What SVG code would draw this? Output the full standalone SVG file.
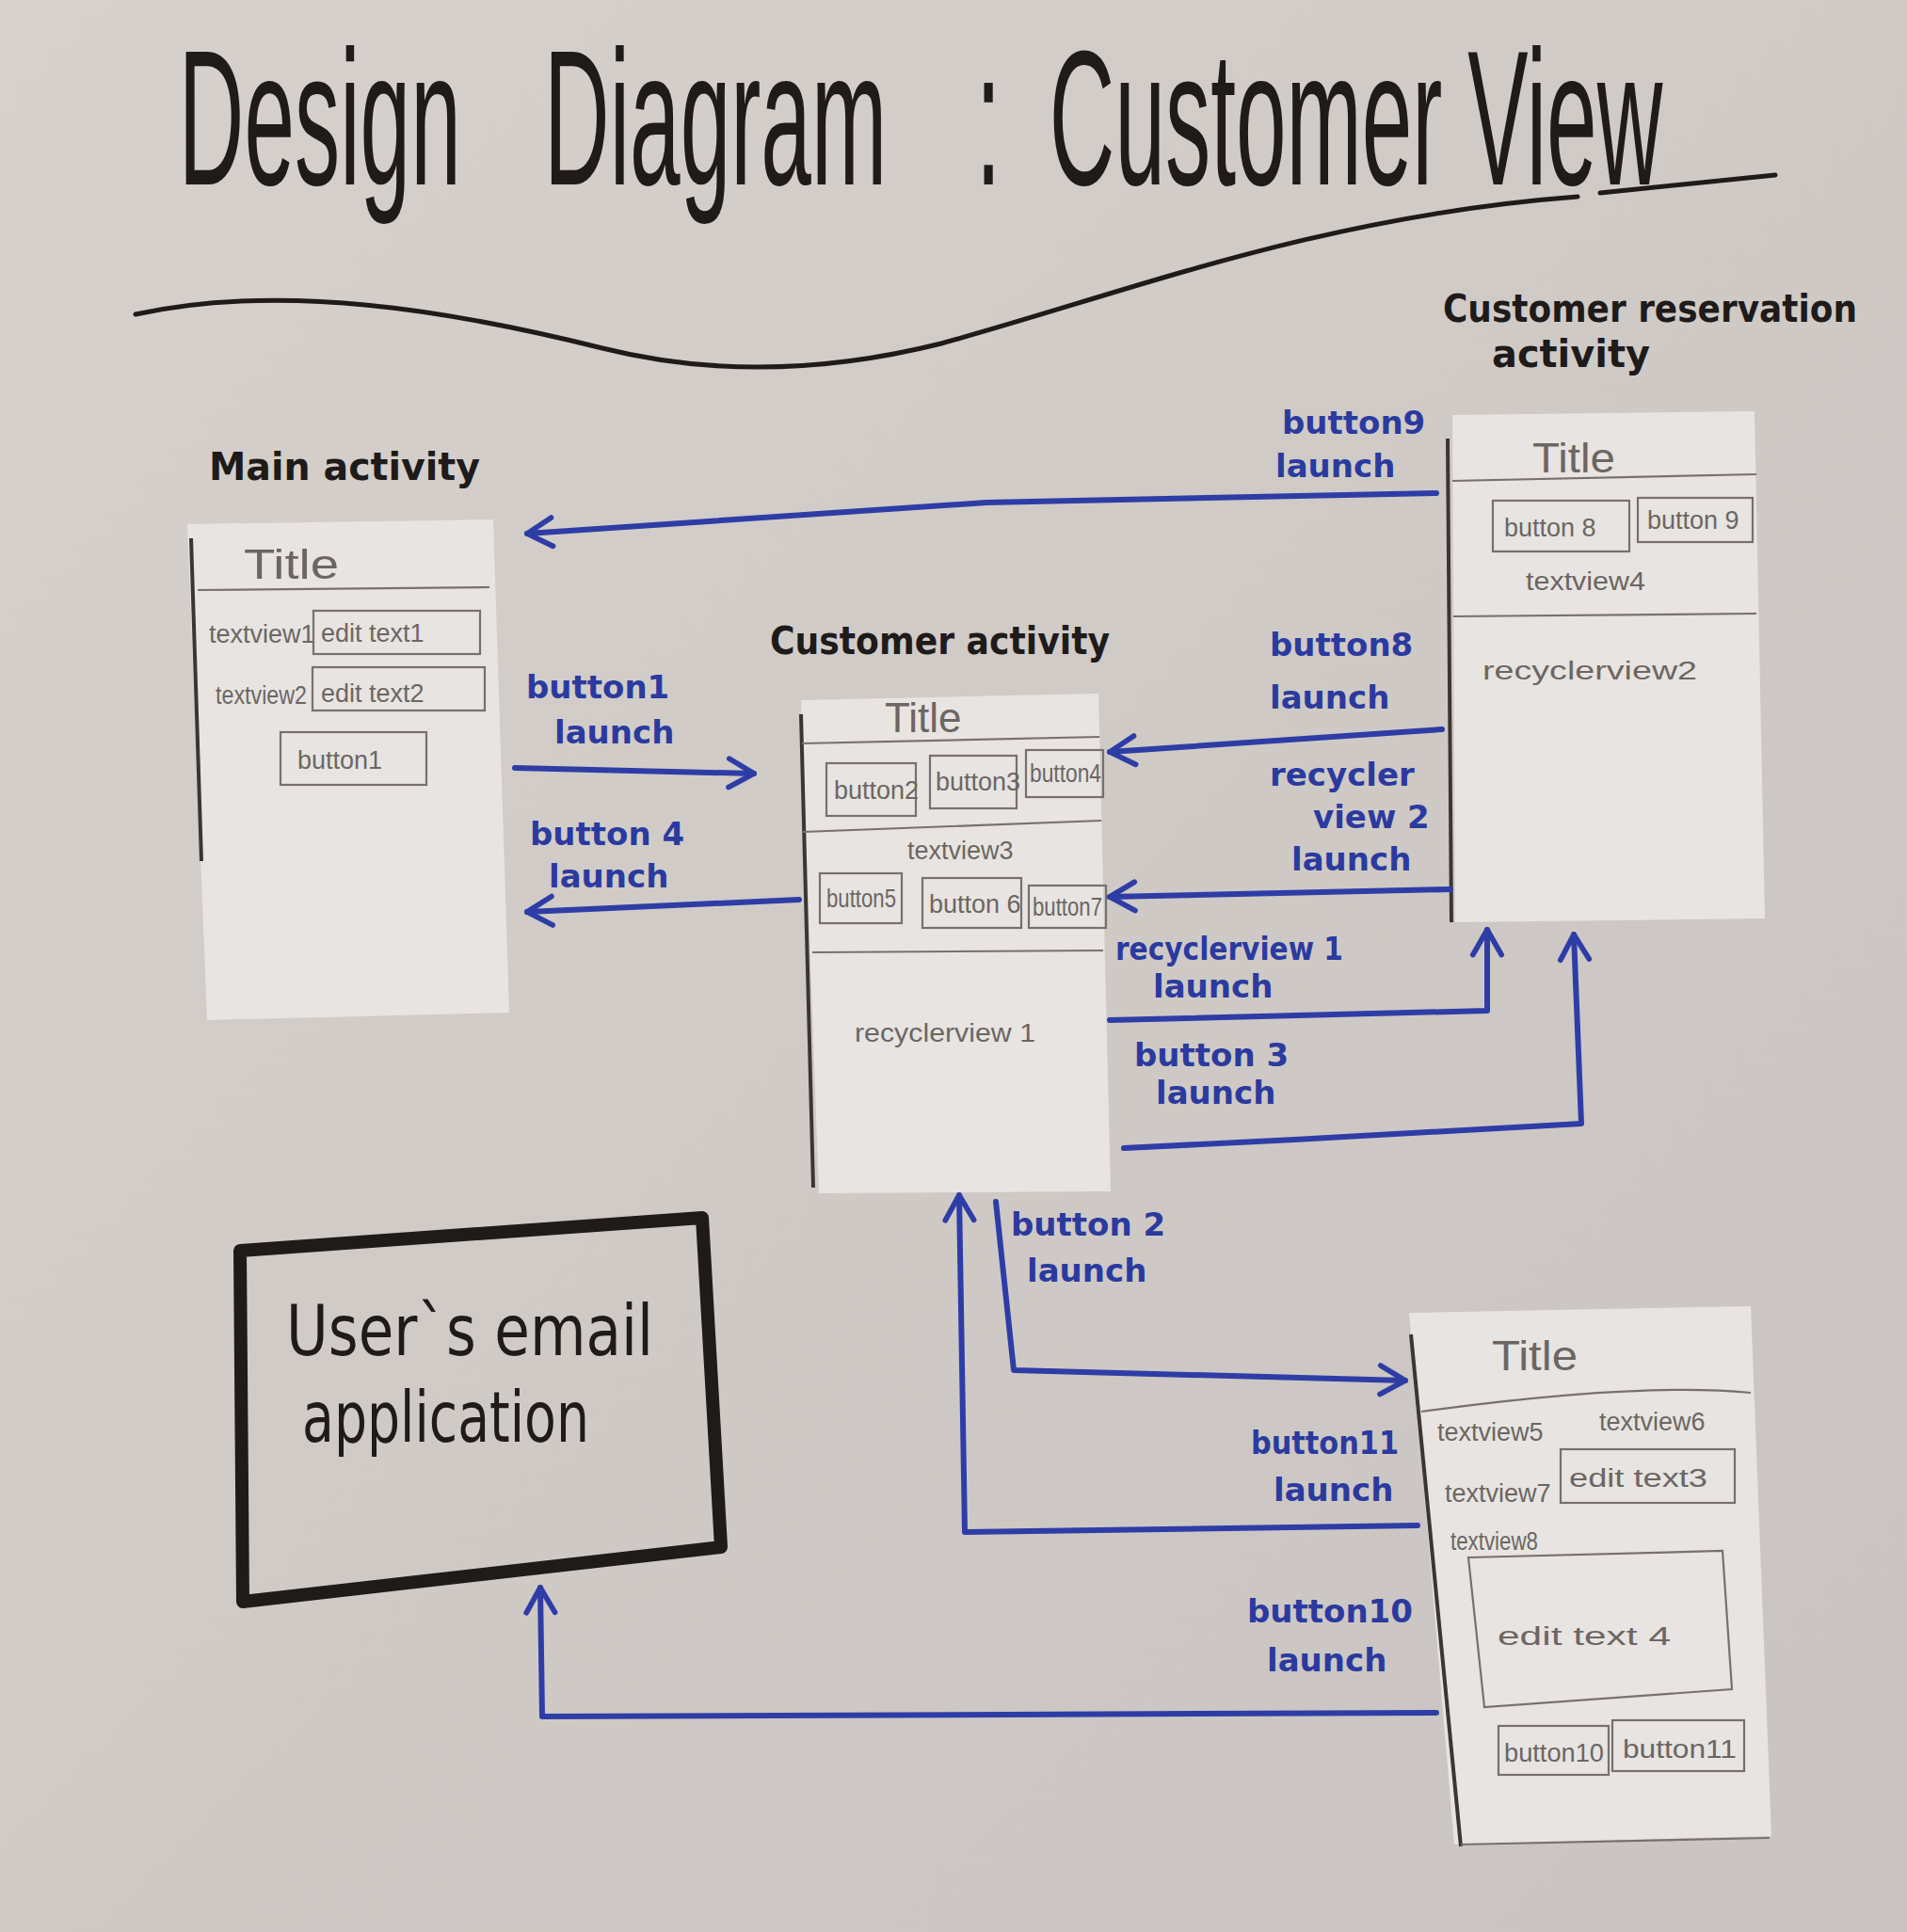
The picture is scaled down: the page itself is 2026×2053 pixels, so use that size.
<svg xmlns="http://www.w3.org/2000/svg" width="2026" height="2053" viewBox="0 0 2026 2053">
<defs>
<linearGradient id="bg" x1="0" y1="0" x2="1" y2="1">
<stop offset="0" stop-color="#d6d1cd"/>
<stop offset="0.5" stop-color="#cfcac6"/>
<stop offset="1" stop-color="#c9c4c1"/>
</linearGradient>
<marker id="ah" viewBox="0 0 20 20" refX="17" refY="10" markerWidth="38" markerHeight="38" markerUnits="userSpaceOnUse" orient="auto">
<path d="M3,2 L17,10 L3,18" fill="none" stroke="#2e3da6" stroke-width="3" stroke-linecap="round" stroke-linejoin="round"/>
</marker>
<style>
.paper{fill:#e7e4e1;stroke:none}
.edge{stroke:#3a3634;stroke-width:4;fill:none}
.pl{stroke:#77716d;stroke-width:2.2;fill:none}
.pt{font-family:"Liberation Sans",Arial,sans-serif;fill:#6c6662;font-size:27px}
.ptt{font-family:"Liberation Sans",Arial,sans-serif;fill:#6c6662;font-size:44px}
.hd{font-family:"DejaVu Sans",sans-serif;font-weight:bold;fill:#1e1b1a;font-size:40px}
.em{font-family:"DejaVu Sans",sans-serif;fill:#1e1b1a;font-size:74px}
.bl{font-family:"DejaVu Sans",sans-serif;font-weight:bold;fill:#2b3a9f;font-size:34px}
.cn{stroke:#2e3da6;stroke-width:6;fill:none;stroke-linecap:round;stroke-linejoin:round}
</style>
</defs>
<rect x="0" y="0" width="2026" height="2053" fill="url(#bg)"/>

<g id="title">
<text transform="translate(0,196) scale(0.47,1)" font-family="Liberation Sans, Arial, sans-serif" font-size="205" fill="#1e1b1a"><tspan x="404" y="0">Design</tspan><tspan x="1230" y="0">Diagram</tspan><tspan x="2206" y="0">:</tspan><tspan x="2372" y="0">Customer View</tspan></text>
<path d="M144,334 C300,300 480,330 640,370 C760,400 880,395 1000,365 C1200,310 1400,230 1676,209 M1700,205 L1886,186" fill="none" stroke="#1e1b1a" stroke-width="5" stroke-linecap="round"/>
</g>

<g id="main-activity">
<text class="hd" x="222" y="510" textLength="288" lengthAdjust="spacingAndGlyphs">Main activity</text>
<polygon class="paper" points="199,557 524,552 541,1076 220,1084"/>
<path class="edge" d="M203,572 L214,915"/>
<text class="ptt" x="259" y="615" textLength="101" lengthAdjust="spacingAndGlyphs">Title</text>
<path class="pl" d="M210,627 L520,624"/>
<text class="pt" x="222" y="683">textview1</text>
<rect class="pl" x="333" y="649" width="177" height="46"/>
<text class="pt" x="341" y="682">edit text1</text>
<text class="pt" x="229" y="748" textLength="97" lengthAdjust="spacingAndGlyphs">textview2</text>
<rect class="pl" x="332" y="709" width="183" height="46"/>
<text class="pt" x="341" y="746">edit text2</text>
<rect class="pl" x="298" y="778" width="155" height="56"/>
<text class="pt" x="316" y="817">button1</text>
</g>

<g id="customer-activity">
<text class="hd" x="818" y="695" textLength="361" lengthAdjust="spacingAndGlyphs">Customer activity</text>
<polygon class="paper" points="851,744 1167,737 1180,1266 870,1268"/>
<path class="edge" d="M851,759 L864,1262"/>
<text class="ptt" x="940" y="778" font-size="38">Title</text>
<path class="pl" d="M852,790 L1168,783"/>
<rect class="pl" x="878" y="811" width="95" height="56"/>
<text class="pt" x="886" y="849">button2</text>
<rect class="pl" x="988" y="803" width="92" height="56"/>
<text class="pt" x="994" y="840">button3</text>
<rect class="pl" x="1090" y="797" width="82" height="50"/>
<text class="pt" x="1094" y="831" textLength="76" lengthAdjust="spacingAndGlyphs">button4</text>
<path class="pl" d="M853,884 L1170,872"/>
<text class="pt" x="964" y="913">textview3</text>
<rect class="pl" x="871" y="928" width="87" height="53"/>
<text class="pt" x="878" y="964" textLength="74" lengthAdjust="spacingAndGlyphs">button5</text>
<rect class="pl" x="980" y="933" width="105" height="53"/>
<text class="pt" x="987" y="970">button 6</text>
<rect class="pl" x="1093" y="941" width="82" height="45"/>
<text class="pt" x="1097" y="973" textLength="74" lengthAdjust="spacingAndGlyphs">button7</text>
<path class="pl" d="M863,1012 L1172,1010"/>
<text class="pt" x="908" y="1107" font-size="33" textLength="192" lengthAdjust="spacingAndGlyphs">recyclerview 1</text>
</g>

<g id="customer-reservation-activity">
<text class="hd" x="1533" y="342" textLength="440" lengthAdjust="spacingAndGlyphs">Customer reservation</text>
<text class="hd" x="1585" y="390" textLength="168" lengthAdjust="spacingAndGlyphs">activity</text>
<polygon class="paper" points="1543,441 1864,437 1875,976 1546,980"/>
<path class="edge" d="M1538,466 L1542,980" stroke-width="8"/>
<text class="ptt" x="1628" y="502" textLength="88" lengthAdjust="spacingAndGlyphs">Title</text>
<path class="pl" d="M1543,511 L1866,504"/>
<rect class="pl" x="1586" y="532" width="145" height="54"/>
<text class="pt" x="1598" y="570">button 8</text>
<rect class="pl" x="1740" y="529" width="122" height="47"/>
<text class="pt" x="1750" y="562">button 9</text>
<text class="pt" x="1621" y="627" font-size="30" textLength="127" lengthAdjust="spacingAndGlyphs">textview4</text>
<path class="pl" d="M1544,655 L1866,652"/>
<text class="pt" x="1575" y="722" font-size="34" textLength="228" lengthAdjust="spacingAndGlyphs">recyclerview2</text>
</g>

<g id="reservation-form">
<polygon class="paper" points="1497,1395 1860,1388 1882,1951 1545,1960"/>
<path class="edge" d="M1499,1418 L1552,1962"/>
<path class="pl" d="M1552,1960 L1880,1953"/>
<text class="ptt" x="1585" y="1456" textLength="91" lengthAdjust="spacingAndGlyphs">Title</text>
<path class="pl" d="M1510,1500 C1620,1485 1760,1470 1860,1480"/>
<text class="pt" x="1527" y="1531">textview5</text>
<text class="pt" x="1699" y="1520">textview6</text>
<text class="pt" x="1535" y="1596">textview7</text>
<rect class="pl" x="1658" y="1540" width="185" height="57"/>
<text class="pt" x="1667" y="1580" font-size="33" textLength="147" lengthAdjust="spacingAndGlyphs">edit text3</text>
<text class="pt" x="1541" y="1647" font-size="24" textLength="93" lengthAdjust="spacingAndGlyphs">textview8</text>
<polygon class="pl" points="1560,1655 1830,1648 1840,1795 1577,1814"/>
<text class="pt" x="1591" y="1748" font-size="50" textLength="184" lengthAdjust="spacingAndGlyphs">edit text 4</text>
<rect class="pl" x="1592" y="1834" width="117" height="52"/>
<text class="pt" x="1598" y="1872" textLength="106" lengthAdjust="spacingAndGlyphs">button10</text>
<rect class="pl" x="1713" y="1828" width="140" height="54"/>
<text class="pt" x="1724" y="1868" font-size="32" textLength="121" lengthAdjust="spacingAndGlyphs">button11</text>
</g>

<g id="email-application">
<polygon points="255,1329 746,1294 766,1644 258,1702" fill="none" stroke="#1e1b1a" stroke-width="14" stroke-linejoin="round"/>
<text class="em" x="304" y="1440" textLength="390" lengthAdjust="spacingAndGlyphs">User`s email</text>
<text class="em" x="321" y="1532" textLength="305" lengthAdjust="spacingAndGlyphs">application</text>
</g>

<g id="connectors">
<path class="cn" d="M1526,524 L1048,534 L560,567" marker-end="url(#ah)"/>
<path class="cn" d="M547,816 L801,822" marker-end="url(#ah)"/>
<path class="cn" d="M849,956 L560,969" marker-end="url(#ah)"/>
<path class="cn" d="M1532,775 L1179,799" marker-end="url(#ah)"/>
<path class="cn" d="M1541,945 L1179,953" marker-end="url(#ah)"/>
<path class="cn" d="M1179,1084 L1580,1074 L1580,988" marker-end="url(#ah)"/>
<path class="cn" d="M1194,1220 L1375,1211 L1680,1194 L1672,993" marker-end="url(#ah)"/>
<path class="cn" d="M1058,1277 L1077,1456 L1493,1467" marker-end="url(#ah)"/>
<path class="cn" d="M1506,1621 L1025,1628 L1019,1270" marker-end="url(#ah)"/>
<path class="cn" d="M1526,1820 L576,1824 L574,1687" marker-end="url(#ah)"/>
<text class="bl" x="1362" y="461">button9</text>
<text class="bl" x="1355" y="507">launch</text>
<text class="bl" x="559" y="742">button1</text>
<text class="bl" x="589" y="790">launch</text>
<text class="bl" x="563" y="898">button 4</text>
<text class="bl" x="583" y="943">launch</text>
<text class="bl" x="1349" y="697">button8</text>
<text class="bl" x="1349" y="753">launch</text>
<text class="bl" x="1349" y="835">recycler</text>
<text class="bl" x="1395" y="880">view 2</text>
<text class="bl" x="1372" y="925">launch</text>
<text class="bl" x="1185" y="1020" textLength="242" lengthAdjust="spacingAndGlyphs">recyclerview 1</text>
<text class="bl" x="1225" y="1060">launch</text>
<text class="bl" x="1205" y="1133">button 3</text>
<text class="bl" x="1228" y="1173">launch</text>
<text class="bl" x="1074" y="1313">button 2</text>
<text class="bl" x="1091" y="1362">launch</text>
<text class="bl" x="1329" y="1545" textLength="157" lengthAdjust="spacingAndGlyphs">button11</text>
<text class="bl" x="1353" y="1595">launch</text>
<text class="bl" x="1325" y="1724">button10</text>
<text class="bl" x="1346" y="1776">launch</text>
</g>
</svg>
